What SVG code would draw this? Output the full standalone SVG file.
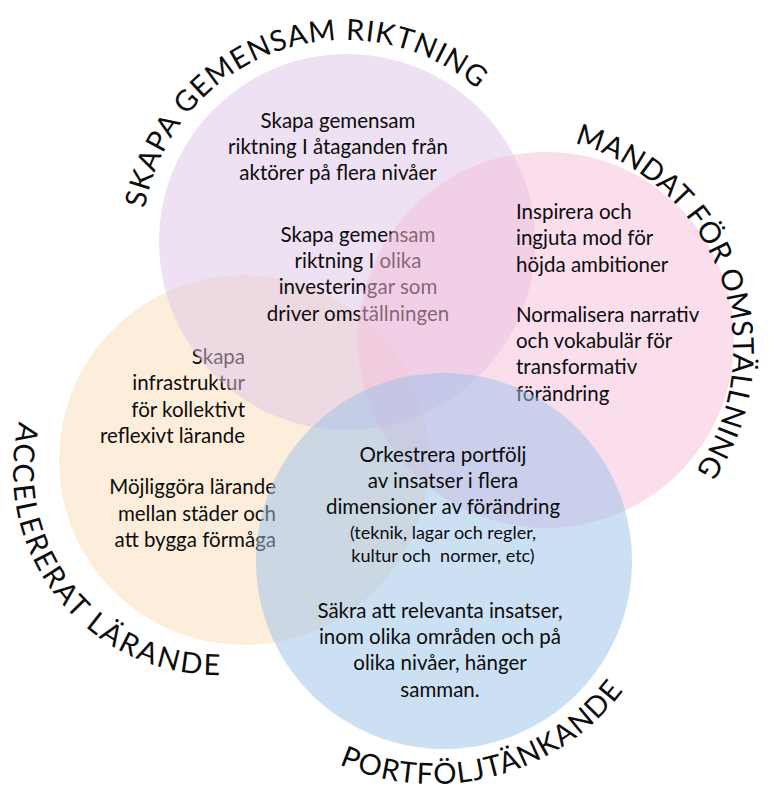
<svg xmlns="http://www.w3.org/2000/svg" xmlns:xlink="http://www.w3.org/1999/xlink" width="784" height="797" viewBox="0 0 784 797">
<style>
.t{font-family:Lato,"Open Sans","Liberation Sans",sans-serif;font-size:20.5px;fill:#0d0d0d}
.s{font-size:18px}
.c{text-anchor:middle}
.r{text-anchor:end}
.arc{font-family:Lato,"Open Sans","Liberation Sans",sans-serif;font-size:29px;fill:#0d0d0d}
.circ{fill-opacity:0.5;stroke:none}
</style>
<defs>
<path id="pSkapa" d="M144.96,208.45 A203,203 0 0 1 479.0,90.52"/>
<path id="pMandat" d="M574.39,143.29 A214,214 0 0 1 694.73,472.13"/>
<path id="pAcc" d="M19.06,421.65 A204,204 0 0 0 222.34,674.93"/>
<path id="pPort" d="M339.08,764.34 A239,239 0 0 0 624.87,688.83"/>
</defs>
<rect width="784" height="797" fill="#fff"/>
<g id="node-accelererat">
<circle class="circ" cx="244" cy="460" r="185" fill="#fbddb9"/>
<text class="t r" x="245" y="364">Skapa</text>
<text class="t r" x="245" y="390">infrastruktur</text>
<text class="t r" x="245" y="416.5">för kollektivt</text>
<text class="t r" x="245" y="442.5">reflexivt lärande</text>
<text class="t r" x="276" y="494">Möjliggöra lärande</text>
<text class="t r" x="276" y="520.5">mellan städer och</text>
<text class="t r" x="276" y="546.5">att bygga förmåga</text>
</g>
<g id="node-skapa">
<circle class="circ" cx="347" cy="242" r="188" fill="#dbc3e7"/>
<text class="t c" x="338" y="128">Skapa gemensam</text>
<text class="t c" x="338" y="154">riktning I åtaganden från</text>
<text class="t c" x="338" y="180">aktörer på flera nivåer</text>
<text class="t c" x="358" y="241.5">Skapa gemensam</text>
<text class="t c" x="358" y="267.5">riktning I olika</text>
<text class="t c" x="358" y="294">investeringar som</text>
<text class="t c" x="358" y="320.5">driver omställningen</text>
</g>
<g id="node-mandat">
<circle class="circ" cx="546" cy="340" r="188" fill="#f5beda"/>
<text class="t" x="516" y="219">Inspirera och</text>
<text class="t" x="516" y="245">ingjuta mod för</text>
<text class="t" x="516" y="271.5">höjda ambitioner</text>
<text class="t" x="516" y="321.5">Normalisera narrativ</text>
<text class="t" x="516" y="348">och vokabulär för</text>
<text class="t" x="516" y="374">transformativ</text>
<text class="t" x="516" y="400.5">förändring</text>
</g>
<g id="node-portfolj">
<circle class="circ" cx="444" cy="561" r="188" fill="#99c1e9"/>
<text class="t c" x="443" y="461.5">Orkestrera portfölj</text>
<text class="t c" x="443" y="487.5">av insatser i flera</text>
<text class="t c" x="443" y="513.5">dimensioner av förändring</text>
<text class="t s c" x="443" y="538.5">(teknik, lagar och regler,</text>
<text class="t s c" x="443" y="561.5" xml:space="preserve">kultur och  normer, etc)</text>
<text class="t c" x="440" y="617.5">Säkra att relevanta insatser,</text>
<text class="t c" x="440" y="643.5">inom olika områden och på</text>
<text class="t c" x="440" y="670">olika nivåer, hänger</text>
<text class="t c" x="440" y="696.5">samman.</text>
</g>
<g id="labels">
<text class="arc"><textPath xlink:href="#pSkapa" href="#pSkapa" textLength="428" lengthAdjust="spacing">SKAPA GEMENSAM RIKTNING</textPath></text>
<text class="arc"><textPath xlink:href="#pMandat" href="#pMandat" textLength="408" lengthAdjust="spacing">MANDAT FÖR OMSTÄLLNING</textPath></text>
<text class="arc"><textPath xlink:href="#pAcc" href="#pAcc" textLength="373" lengthAdjust="spacing">ACCELERERAT LÄRANDE</textPath></text>
<text class="arc"><textPath xlink:href="#pPort" href="#pPort" textLength="316" lengthAdjust="spacing">PORTFÖLJTÄNKANDE</textPath></text>
</g>
</svg>
